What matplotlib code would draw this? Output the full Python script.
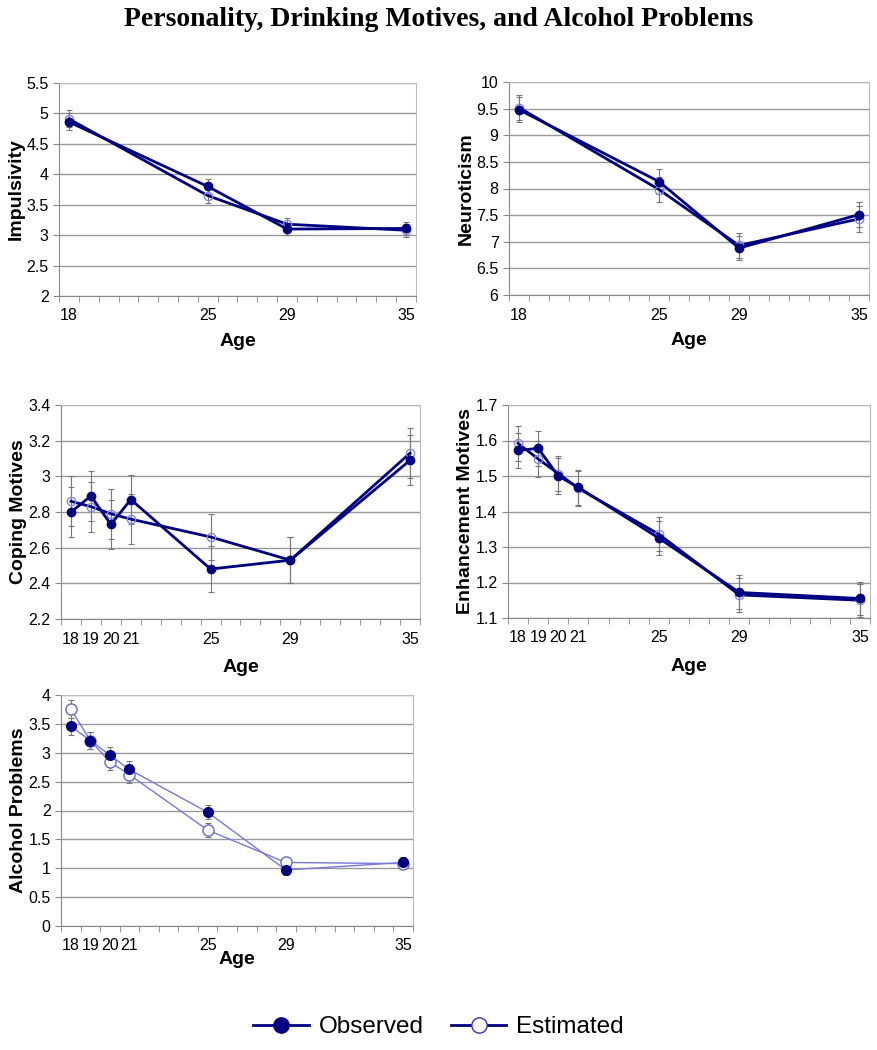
import matplotlib.pyplot as plt
import numpy as np
from matplotlib.lines import Line2D

ages4 = [18, 25, 29, 35]
ages7 = [18, 19, 20, 21, 25, 29, 35]

imp_obs = [4.86, 3.80, 3.10, 3.11]
imp_est = [4.91, 3.65, 3.18, 3.08]
imp_err = [0.14, 0.12, 0.10, 0.11]

neu_obs = [9.48, 8.13, 6.88, 7.51]
neu_est = [9.52, 7.98, 6.93, 7.43]
neu_err = [0.24, 0.24, 0.23, 0.24]

cop_obs = [2.80, 2.89, 2.73, 2.87, 2.48, 2.53, 3.09]
cop_est = [2.86, 2.83, 2.79, 2.76, 2.66, 2.53, 3.13]
cop_err = [0.14, 0.14, 0.14, 0.14, 0.13, 0.13, 0.14]

enh_obs = [1.572, 1.578, 1.500, 1.468, 1.325, 1.172, 1.155]
enh_est = [1.592, 1.548, 1.507, 1.465, 1.336, 1.165, 1.150]
enh_err = [0.05, 0.05, 0.05, 0.05, 0.048, 0.048, 0.047]

alc_obs = [3.46, 3.21, 2.96, 2.71, 1.97, 0.97, 1.10]
alc_est = [3.76, 3.21, 2.84, 2.62, 1.66, 1.10, 1.08]
alc_err = [0.15, 0.15, 0.14, 0.14, 0.12, 0.09, 0.10]

W, H = 877, 1050
NAVY = '#000080'

fig = plt.figure(figsize=(W / 100, H / 100), dpi=100)
plt.rcParams['font.family'] = ['Liberation Sans', 'DejaVu Sans']


def px_axes(x0, x1, y0, y1):
    return fig.add_axes([x0 / W, 1 - y1 / H, (x1 - x0) / W, (y1 - y0) / H])


def panel(ax, ages, obs, est, err, ylim, ystep, ylabel, thin=False, xpad=7):
    for s in (est, obs):
        ax.errorbar(ages, s, yerr=err, fmt='none', ecolor='#777777',
                    elinewidth=0.8, capsize=2, capthick=0.8, zorder=2)
    if thin:
        lc = '#7777dd'
        ax.plot(ages, obs, '-o', color=lc, lw=1, mfc=NAVY, mec=NAVY, ms=7, zorder=4)
        ax.plot(ages, est, '-o', color=lc, lw=1, mfc='white', mec='#6666cc', ms=8, zorder=3)
    else:
        ax.plot(ages, obs, '-o', color=NAVY, lw=2, mfc=NAVY, mec=NAVY, ms=6, zorder=4)
        ax.plot(ages, est, '-o', color=NAVY, lw=2, mfc='none', mec='#8888e0', ms=6, zorder=3)
    ax.set_xlim(17.5, 35.5)
    ax.set_ylim(*ylim)
    yt = np.arange(ylim[0], ylim[1] + ystep / 2, ystep)
    ax.set_yticks(yt)
    ax.set_yticklabels([f'{round(v, 2):g}' for v in yt])
    ax.yaxis.grid(True, color='#999999', lw=1)
    ax.set_axisbelow(True)
    ax.set_xticks(ages)
    ax.set_xticks(np.arange(17.5, 36, 1), minor=True)
    ax.tick_params(axis='x', which='major', length=0, labelsize=11.5, pad=9)
    ax.tick_params(axis='x', which='minor', length=4, direction='out', color='#888888')
    ax.tick_params(axis='y', length=4, color='#888888', labelsize=11.5)
    for side in ('top', 'right'):
        ax.spines[side].set_color('#bbbbbb')
    for side in ('left', 'bottom'):
        ax.spines[side].set_color('#888888')
    ax.set_ylabel(ylabel, fontsize=14, fontweight='bold', labelpad=1)
    ax.set_xlabel('Age', fontsize=14, fontweight='bold', labelpad=xpad)


ax1 = px_axes(59, 416, 83, 296)
panel(ax1, ages4, imp_obs, imp_est, imp_err, (2, 5.5), 0.5, 'Impulsivity')
ax2 = px_axes(509, 869, 82, 295)
panel(ax2, ages4, neu_obs, neu_est, neu_err, (6, 10), 0.5, 'Neuroticism')
ax3 = px_axes(61, 420, 405, 619)
panel(ax3, ages7, cop_obs, cop_est, cop_err, (2.2, 3.4), 0.2, 'Coping Motives', xpad=9)
ax4 = px_axes(508, 870, 405, 618)
panel(ax4, ages7, enh_obs, enh_est, enh_err, (1.1, 1.7), 0.1, 'Enhancement Motives', xpad=9)
ax5 = px_axes(61, 413, 695, 926)
panel(ax5, ages7, alc_obs, alc_est, alc_err, (0, 4), 0.5, 'Alcohol Problems', thin=True, xpad=-2)

fig.text(0.5, 1 - 20 / H, 'Personality, Drinking Motives, and Alcohol Problems',
         ha='center', va='center', fontsize=20, fontweight='bold',
         family='Liberation Serif')

handles = [Line2D([], [], color=NAVY, lw=2, marker='o', ms=11, mfc=NAVY, mec=NAVY),
           Line2D([], [], color=NAVY, lw=2, marker='o', ms=11, mfc='white', mec='#3333bb')]
fig.legend(handles, ['Observed', 'Estimated'], loc='center', ncol=2,
           bbox_to_anchor=(0.5, 1 - 1027 / H), frameon=False, fontsize=17.5,
           handlelength=2.3, columnspacing=1.1, handletextpad=0.4)

fig.savefig('out.png', dpi=100)
